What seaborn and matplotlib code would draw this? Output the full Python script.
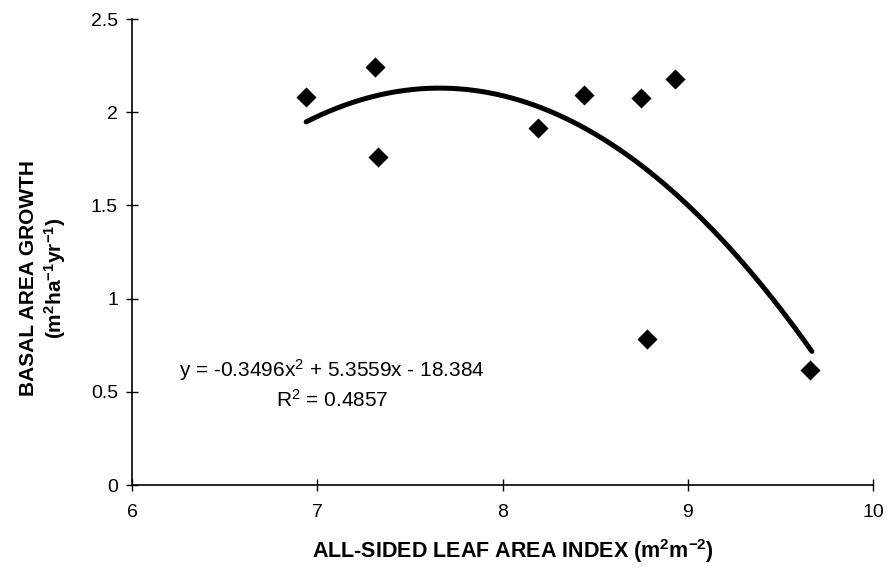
import numpy as np
import pandas as pd
import matplotlib
matplotlib.use("Agg")
import matplotlib.pyplot as plt
import seaborn as sns

# Leaf area index vs. basal area growth
lai = [6.94, 7.31, 7.33, 8.19, 8.44, 8.75, 8.93, 8.78, 9.66]
growth = [2.08, 2.24, 1.76, 1.915, 2.09, 2.075, 2.18, 0.785, 0.615]

# Second-order polynomial trendline coefficients (a, b, c) and R^2
coef = [-0.3496, 5.3559, -18.384]
r2 = 0.4857

x_ticks = [6, 7, 8, 9, 10]
y_ticks = [0, 0.5, 1, 1.5, 2, 2.5]

sns.set_theme(style="ticks")
plt.rcParams["font.family"] = ["Liberation Sans", "DejaVu Sans"]
plt.rcParams["mathtext.fontset"] = "custom"
plt.rcParams["mathtext.rm"] = "Liberation Sans"
plt.rcParams["mathtext.it"] = "Liberation Sans"
plt.rcParams["mathtext.bf"] = "Liberation Sans:bold"
for key in ["text.color", "axes.labelcolor", "xtick.color", "ytick.color",
            "xtick.labelcolor", "ytick.labelcolor"]:
    plt.rcParams[key] = "black"

fig = plt.figure(figsize=(8.89, 5.73), dpi=100)
ax = fig.add_axes([132 / 889, 88 / 573, (873 - 132) / 889, (485 - 19) / 573])

df = pd.DataFrame({"lai": lai, "growth": growth})
sns.scatterplot(data=df, x="lai", y="growth", marker="D", s=105,
                color="black", edgecolor="black", linewidth=0, ax=ax, zorder=3)

xs = np.linspace(min(lai), max(lai) + 0.01, 200)
trend = pd.DataFrame({"x": xs, "y": np.polyval(coef, xs)})
sns.lineplot(data=trend, x="x", y="y", color="black", linewidth=3.6, ax=ax,
             solid_capstyle="round")

ax.set_xlim(6, 10)
ax.set_ylim(0, 2.5)
ax.set_xticks(x_ticks)
ax.set_yticks(y_ticks)
ax.set_xticklabels([str(t) for t in x_ticks])
ax.set_yticklabels(["0", "0.5", "1", "1.5", "2", "2.5"])
ax.tick_params(axis="both", direction="inout", length=8, width=1,
               labelsize=14)
ax.tick_params(axis="y", pad=6)
ax.tick_params(axis="x", pad=10)

for side in ["top", "right"]:
    ax.spines[side].set_visible(False)
for side in ["left", "bottom"]:
    ax.spines[side].set_color("black")
    ax.spines[side].set_linewidth(1.2)

ax.set_xlabel(r"ALL-SIDED LEAF AREA INDEX (m$^\mathbf{2}$m$^\mathbf{-2}$)",
              fontsize=15.5, fontweight="bold")
ax.xaxis.set_label_coords(0.514, -0.112)
ax.set_ylabel("BASAL AREA GROWTH\n" + r"(m$^\mathbf{2}$ha$^\mathbf{-1}$yr$^\mathbf{-1}$)",
              fontsize=15, fontweight="bold", linespacing=1.2)
ax.yaxis.set_label_coords(-0.086, 0.444)

eq_x = 6.0 + (332 - 132) / 185.3
ax.text(eq_x, (485 - 370) / 186.4,
        f"y = {coef[0]}x$^2$ + {coef[1]}x - {abs(coef[2])}",
        ha="center", va="center", fontsize=15)
ax.text(eq_x, (485 - 400) / 186.4,
        f"R$^2$ = {r2}", ha="center", va="center", fontsize=15)

fig.savefig("out.png", dpi=100, facecolor="white")
